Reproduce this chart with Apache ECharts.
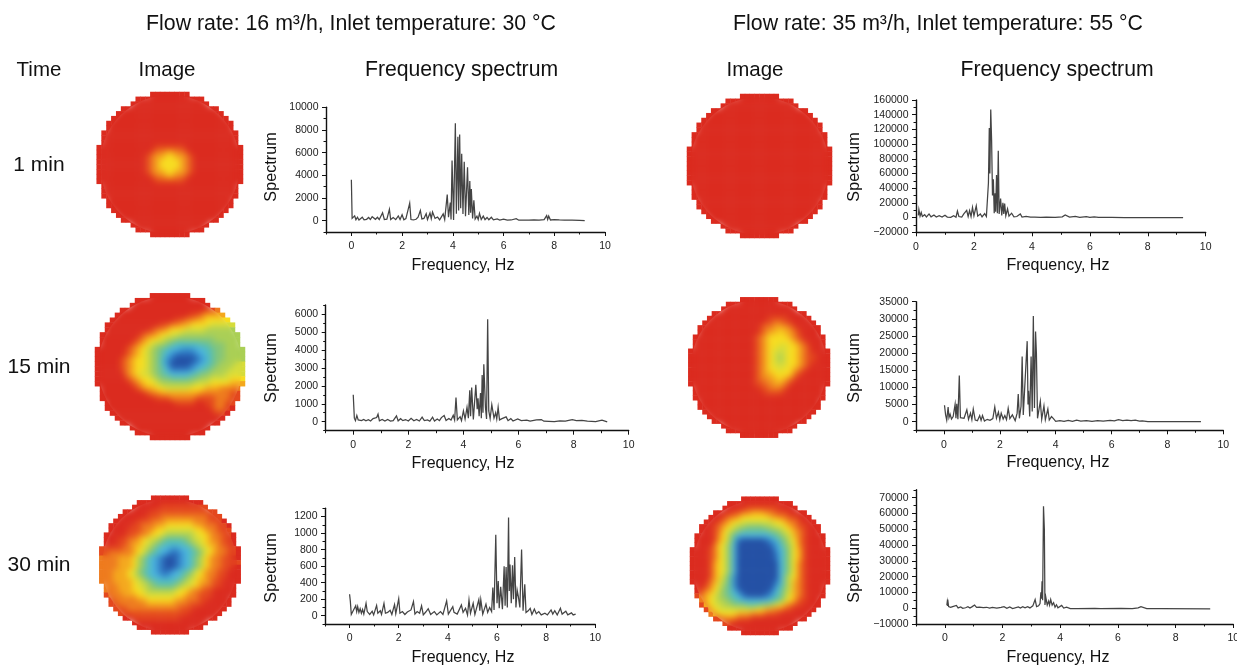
<!DOCTYPE html>
<html><head><meta charset="utf-8">
<style>html,body{margin:0;padding:0;background:#fff;overflow:hidden}#c{width:1237px;height:666px;position:absolute;left:0;top:0}
.soft{position:absolute;border-radius:50%;-webkit-backdrop-filter:blur(3px);backdrop-filter:blur(3px);pointer-events:none}</style>
<script src="https://cdn.jsdelivr.net/npm/echarts@6/dist/echarts.min.js"></script>
</head><body><div id="c"></div>
<script>
// Level per cell of each tomographic image (0 = red ... d = deep blue), circle rows only
const image1=["00000000","00000000000000","0000000000000000","00000000000000000000","0000000000000000000000","000000000000000000000000","00000000000000000000000000","00000000000000000000000000","0000000000000000000000000000","0000000000000000000000000000","0000000000000000000000000000",
"000000000000111111000000000000","000000000001223322100000000000","000000000012334433210000000000","000000000012344443210000000000","000000000012344443210000000000","000000000012334433210000000000","000000000001223322100000000000","000000000000111111000000000000",
"0000000000000000000000000000","0000000000000000000000000000","0000000000000000000000000000","00000000000000000000000000","00000000000000000000000000","000000000000000000000000","0000000000000000000000","00000000000000000000","0000000000000000","00000000000000","00000000"];
const image2=["00000000","00000000000000","0000000000000000","00000000000000000112","0000000000000001123333","000000000000011223344444","00000000000112233444455555","00000000012234445555666666","0000000012234455666666666666","0000000123445667777777766666","0000001234566789999988777666",
"000000123456789aabbbaa98776666","00000012345678abccccba98776666","00000123445679bcddddcba8776666","00000123445679bddddcba98766655","00000123445678accccba987666555","000000234556789aaaa98776665555","000000123445677888877665555444","000000012344566666665554444333",
"0000000123344555554443332222","0000000001223333333322222211","0000000000011122222111122211","00000000000000111100112211","00000000000000000000012210","000000000000000000000110","0000000000000000000000","00000000000000000000","0000000000000000","00000000000000","00000000"];
const image3=["00000000","00000000000000","0000001111111111","00000011111111111111","0000001112222222222111","000001112223333332221110","00000112223344444433222110","00001112234455555544322111","0000011223445666666544322110","0001122345567888876554322110","0001123345678999987654332110",
"1111122345679aabbaa97654322110","1122222345789abccba98754322110","22223334679abcddcba97643221100","22223334679abcddcba97643221111","22223334679abcddcba97643221100","22233345789abccba9875432211000","22233345679aabbaa9765432211000","222333345678999987654332110000",
"2223334556788887655432211000","2223334456666665443221100000","1222333445555554432211100000","12222233444444332221100000","11222222333333222111000000","111222222222221110000000","1111111111111110000000","00111111111100000000","0000000000000000","00000000000000","00000000"];
const image4=["00000000","00000000000000","0000000000000000","00000000000000000000","0000000000000000000000","000000000000000000000000","00000000000000000000000000","00000000000000000000000000","0000000000000000000000000000","0000000000000000000000000000","0000000000000000000000000000",
"000000000000000000000000000000","000000000000000000000000000000","000000000000000000000000000000","000000000000000000000000000000","000000000000000000000000000000","000000000000000000000000000000","000000000000000000000000000000","000000000000000000000000000000",
"0000000000000000000000000000","0000000000000000000000000000","0000000000000000000000000000","00000000000000000000000000","00000000000000000000000000","000000000000000000000000","0000000000000000000000","00000000000000000000","0000000000000000","00000000000000","00000000"];
const image5=["00000000","00000000000000","0000000000000000","00000000000000000000","0000000000000111100000","000000000000011221100000","00000000000001223332100000","00000000000001233433210000","0000000000000123444432100000","0000000000000123444443210000","0000000000000123445544321000",
"000000000000001234555443210000","000000000000001234565443211000","000000000000001234565443211000","000000000000001234555443210000","000000000000001234454432100000","000000000000001233444421000000","000000000000001223343210000000","000000000000001122332100000000",
"0000000000000011222100000000","0000000000000001111000000000","0000000000000000000000000000","00000000000000000000000000","00000000000000000000000000","000000000000000000000000","0000000000000000000000","00000000000000000000","0000000000000000","00000000000000","00000000"];
const image6=["00000000","00000000000000","0000011111110000","00001122333221110000","0001223444444332211000","000123445555555443221000","00012345667777665543211000","00012456788888877654321000","000013468aaaaaaa987653210000","000013469cdddddcba8754210000","00002457adddddddcb9764210000",
"000012457addddddddba8643100000","000012457addddddddca8643100000","000012457addddddddca8643100000","000013457addddddddda8642100000","000013457addddddddda8642100000","000013457addddddddda8642100000","000013468bddddddddda7542100000","000023568bddddddddca7532100000",
"00124578bddddddddb9753210000","01234678acddddddca8653210000","123456789acddddcb98643210000","234566789aaaaaa98754311000","13455667778887765432110000","134555555554433221100000","2344443332221110000000","11222111000000000000","1100000000000000","00000000000000","00000000"];
const images=[image1,image2,image3,image4,image5,image6];

// Spectrum curves: [frequency in Hz, amplitude]
const spectrum1=[[0,3600],[0.03,200],[0.08,150],[0.13,420],[0.18,80],[0.24,300],[0.3,60],[0.37,150],[0.43,300],[0.5,70],[0.6,120],[0.68,280],[0.75,100],[0.82,350],[0.88,380],[0.95,120],[1.03,300],[1.1,90],[1.17,250],[1.23,700],[1.3,100],[1.4,130],[1.5,1000],[1.55,100],[1.65,280],[1.75,90],[1.85,420],[1.92,100],[2.0,520],[2.07,80],[2.15,180],[2.22,70],[2.3,1550],[2.35,100],[2.45,60],[2.55,120],[2.63,300],[2.72,900],[2.78,150],[2.86,200],[2.95,620],[3.0,100],[3.1,680],[3.15,180],[3.2,760],[3.3,200],[3.4,320],[3.48,80],[3.55,250],[3.62,600],[3.68,100],[3.78,2300],[3.83,300],[3.9,1600],[3.93,100],[3.97,5300],[4.03,60],[4.1,8600],[4.14,600],[4.2,7400],[4.23,900],[4.27,7600],[4.31,1100],[4.35,5900],[4.4,600],[4.45,5200],[4.5,400],[4.58,4700],[4.63,500],[4.67,3500],[4.7,700],[4.73,2800],[4.78,200],[4.83,1800],[4.88,150],[4.95,400],[5.0,100],[5.05,650],[5.12,100],[5.2,400],[5.27,90],[5.35,280],[5.42,80],[5.52,300],[5.6,70],[5.75,150],[5.85,50],[6.0,140],[6.15,40],[6.3,60],[6.5,180],[6.6,40],[6.8,50],[7.0,40],[7.2,70],[7.4,50],[7.6,90],[7.7,450],[7.74,100],[7.78,400],[7.85,60],[8.0,100],[8.2,60],[8.4,40],[8.7,50],[9.0,30],[9.2,10]];
const spectrum2=[[0,1500],[0.04,200],[0.08,60],[0.13,350],[0.18,100],[0.25,200],[0.3,60],[0.38,130],[0.46,50],[0.55,110],[0.63,40],[0.72,170],[0.78,60],[0.85,230],[0.9,420],[0.95,50],[1.05,130],[1.15,40],[1.25,120],[1.35,40],[1.45,60],[1.57,330],[1.63,50],[1.72,170],[1.8,60],[1.9,120],[2.0,40],[2.1,190],[2.2,50],[2.3,130],[2.4,40],[2.5,260],[2.58,60],[2.7,100],[2.78,30],[2.88,250],[2.95,40],[3.05,150],[3.13,60],[3.2,230],[3.3,350],[3.37,70],[3.47,180],[3.55,90],[3.63,360],[3.68,100],[3.73,1350],[3.78,100],[3.88,280],[3.93,60],[4.0,600],[4.06,150],[4.13,800],[4.18,200],[4.23,1750],[4.26,300],[4.3,1900],[4.36,120],[4.45,2050],[4.5,700],[4.53,1300],[4.57,300],[4.62,1600],[4.65,200],[4.68,2600],[4.71,500],[4.74,3200],[4.8,800],[4.84,150],[4.88,5700],[4.92,600],[4.97,180],[5.03,950],[5.07,1000],[5.11,200],[5.17,500],[5.21,150],[5.26,800],[5.31,100],[5.4,170],[5.47,60],[5.55,270],[5.62,60],[5.72,170],[5.8,40],[5.97,150],[6.1,60],[6.3,90],[6.42,30],[6.65,100],[6.72,40],[6.83,120],[6.92,30],[7.1,20],[7.3,10],[7.5,50],[7.7,30],[7.95,110],[8.1,60],[8.3,70],[8.5,30],[8.8,10],[9.03,90],[9.1,10],[9.22,-10]];
const spectrum3=[[0,260],[0.03,180],[0.07,15],[0.15,30],[0.25,120],[0.29,50],[0.33,110],[0.38,40],[0.43,85],[0.48,30],[0.53,75],[0.58,20],[0.67,150],[0.72,50],[0.82,15],[0.92,55],[0.98,10],[1.1,125],[1.15,30],[1.25,60],[1.3,15],[1.4,150],[1.46,30],[1.55,40],[1.65,65],[1.72,15],[1.83,135],[1.88,25],[2.0,205],[2.05,30],[2.15,50],[2.25,15],[2.35,45],[2.5,70],[2.6,170],[2.66,20],[2.75,50],[2.85,30],[2.93,120],[3.0,10],[3.1,45],[3.2,85],[3.3,15],[3.45,50],[3.55,10],[3.7,50],[3.8,15],[3.88,30],[3.95,180],[4.02,20],[4.08,50],[4.2,110],[4.25,40],[4.38,20],[4.55,130],[4.62,40],[4.72,90],[4.8,10],[4.86,190],[4.92,30],[5.03,150],[5.1,15],[5.26,195],[5.3,60],[5.34,195],[5.42,20],[5.55,140],[5.62,40],[5.7,100],[5.78,50],[5.83,340],[5.88,70],[5.95,980],[6.0,150],[6.05,420],[6.09,90],[6.15,350],[6.22,80],[6.29,600],[6.33,120],[6.37,590],[6.42,100],[6.47,1190],[6.5,300],[6.53,620],[6.58,150],[6.63,610],[6.67,200],[6.72,710],[6.77,100],[6.82,310],[6.87,230],[6.93,100],[7.0,800],[7.06,60],[7.13,380],[7.18,40],[7.27,60],[7.35,90],[7.42,15],[7.52,80],[7.6,25],[7.7,50],[7.8,10],[7.95,30],[8.05,10],[8.2,70],[8.27,20],[8.35,60],[8.45,10],[8.58,90],[8.65,20],[8.8,55],[8.88,10],[9.03,35],[9.1,10],[9.2,20]];
const spectrum4=[[0.08,3000],[0.1,11000],[0.14,2000],[0.18,7000],[0.22,1500],[0.3,4000],[0.36,800],[0.45,5000],[0.52,1000],[0.62,3500],[0.7,800],[0.8,2500],[0.9,700],[1.0,3200],[1.08,700],[1.2,400],[1.3,2500],[1.38,500],[1.43,9000],[1.48,1500],[1.58,800],[1.65,5000],[1.75,9800],[1.8,1500],[1.85,9500],[1.9,1500],[1.95,14000],[2.0,2500],[2.08,16000],[2.13,2000],[2.22,5000],[2.28,1000],[2.37,5500],[2.43,1500],[2.48,3000],[2.5,47000],[2.53,122000],[2.55,60000],[2.58,147000],[2.61,105000],[2.64,30000],[2.67,52000],[2.7,6000],[2.73,33000],[2.75,8000],[2.78,58000],[2.81,6000],[2.84,91000],[2.87,5000],[2.92,26000],[2.96,3000],[3.0,20000],[3.03,5000],[3.06,19000],[3.1,2500],[3.16,12000],[3.21,2000],[3.3,6000],[3.38,1000],[3.48,1500],[3.6,5000],[3.66,800],[3.8,1500],[3.95,500],[4.1,500],[4.3,300],[4.5,500],[4.8,300],[5.05,1000],[5.15,3500],[5.3,600],[5.5,1500],[5.65,300],[5.88,1200],[6.0,200],[6.15,900],[6.3,200],[6.75,400],[7.2,100],[8,100],[9.22,0]];
const spectrum5=[[0.02,4800],[0.06,2000],[0.1,500],[0.15,4300],[0.18,1200],[0.22,2200],[0.27,800],[0.33,1500],[0.4,5100],[0.43,1000],[0.46,5200],[0.5,700],[0.55,13500],[0.59,1200],[0.65,800],[0.72,1000],[0.82,3500],[0.88,700],[0.95,2500],[1.0,600],[1.05,3700],[1.12,500],[1.2,300],[1.28,1800],[1.33,400],[1.38,1800],[1.45,200],[1.55,700],[1.65,400],[1.75,900],[1.82,4300],[1.88,1000],[1.95,2800],[2.0,500],[2.05,2500],[2.12,800],[2.18,1800],[2.24,600],[2.3,3900],[2.36,900],[2.45,2000],[2.55,300],[2.62,2500],[2.66,8100],[2.7,1000],[2.76,4500],[2.8,19000],[2.84,2000],[2.9,2000],[2.98,23500],[3.01,5000],[3.03,9000],[3.07,1500],[3.12,19000],[3.16,3000],[3.2,30800],[3.24,4000],[3.28,26300],[3.31,20000],[3.35,1000],[3.45,6000],[3.5,700],[3.58,4600],[3.63,600],[3.72,3700],[3.77,500],[3.85,1500],[3.92,900],[4.0,100],[4.15,350],[4.3,100],[4.45,400],[4.6,100],[4.75,450],[4.9,150],[5.1,350],[5.3,100],[5.5,350],[5.7,150],[5.95,400],[6.1,250],[6.25,600],[6.4,350],[6.55,500],[6.7,350],[6.85,450],[7.0,150],[7.1,250],[7.3,50],[7.6,30],[8.2,20],[9.2,0]];
const spectrum6=[[0.07,2000],[0.08,3500],[0.09,1500],[0.1,5500],[0.13,1000],[0.2,500],[0.27,1000],[0.33,200],[0.4,1800],[0.46,200],[0.55,800],[0.62,-100],[0.72,300],[0.8,900],[0.87,100],[0.95,1000],[1.03,2000],[1.1,500],[1.2,700],[1.25,1400],[1.33,300],[1.45,600],[1.55,0],[1.65,500],[1.8,100],[1.95,600],[2.05,1000],[2.15,-100],[2.25,800],[2.35,-200],[2.55,800],[2.62,100],[2.7,1000],[2.78,200],[2.87,1000],[2.95,200],[3.05,1500],[3.13,5500],[3.18,1000],[3.25,1500],[3.3,3000],[3.33,10000],[3.35,6000],[3.37,17000],[3.39,5000],[3.42,64500],[3.45,50000],[3.47,2000],[3.5,7000],[3.55,2000],[3.6,4500],[3.63,2000],[3.67,5500],[3.72,2000],[3.77,3500],[3.82,600],[3.87,2200],[3.92,300],[4.05,1800],[4.12,100],[4.22,600],[4.35,-300],[4.6,-300],[5.2,-100],[5.4,-300],[6.1,-100],[6.5,-300],[6.7,200],[6.8,1000],[6.85,300],[7,-200],[7.5,-300],[9.2,-400]];
const spectra=[spectrum1,spectrum2,spectrum3,spectrum4,spectrum5,spectrum6];

// Tick labels
const freqTicks=[0,2,4,6,8,10];
const yTicks1=[0,2000,4000,6000,8000,10000];
const yTicks2=[0,1000,2000,3000,4000,5000,6000];
const yTicks3=[0,200,400,600,800,1000,1200];
const yTicks4=[-20000,0,20000,40000,60000,80000,100000,120000,140000,160000];
const yTicks5=[0,5000,10000,15000,20000,25000,30000,35000];
const yTicks6=[-10000,0,10000,20000,30000,40000,50000,60000,70000];
const yTicks=[yTicks1,yTicks2,yTicks3,yTicks4,yTicks5,yTicks6];

// Layout of the panels
const plots=[
 {left:326,top:107.3,width:279,height:124.7,xMin:-1,yMin:-1000,yMax:10000,yMinor:1000},
 {left:325.7,top:305,width:303,height:125.7,xMin:-1,yMin:-500,yMax:6500,yMinor:500},
 {left:325,top:508.3,width:270.3,height:115.7,xMin:-1,yMin:-100,yMax:1300,yMinor:100},
 {left:916,top:100,width:289.7,height:132.3,xMin:0,yMin:-20000,yMax:160000,yMinor:10000},
 {left:916,top:301.7,width:307.3,height:128.6,xMin:-1,yMin:-2500,yMax:35000,yMinor:2500},
 {left:916,top:489.8,width:317.3,height:134.2,xMin:-1,yMin:-10000,yMax:75000,yMinor:5000}
];
const imageBoxes=[
 {left:96.7,top:92,width:146.3,height:145},
 {left:95,top:293.3,width:150,height:146.7},
 {left:99.3,top:495.7,width:141.4,height:138.6},
 {left:687,top:94,width:145,height:144},
 {left:688.3,top:297.3,width:141.7,height:140.4},
 {left:690,top:496.7,width:140,height:138.3}
];
const palette=['#db2b1f','#e4481e','#ee7b1e','#f4a81d','#f7dc20','#d6dc3a','#aacf55','#86c678','#62c0a0','#4fbdc4','#4cb5de','#3a94d2','#2a6dbb','#2350a5'];
const labels=[
 {t:'Flow rate: 16 m³/h, Inlet temperature: 30 °C',x:351,y:24,s:21.3},
 {t:'Flow rate: 35 m³/h, Inlet temperature: 55 °C',x:938,y:24,s:21.3},
 {t:'Time',x:39,y:70,s:20.5},{t:'Image',x:167,y:70,s:20.5},{t:'Frequency spectrum',x:461.5,y:70,s:21.2},
 {t:'Image',x:755,y:70,s:20.5},{t:'Frequency spectrum',x:1057,y:70,s:21.2},
 {t:'1 min',x:39,y:165,s:21},{t:'15 min',x:39,y:367,s:21},{t:'30 min',x:39,y:565,s:21},
 {t:'Frequency, Hz',x:463,y:266,s:16},{t:'Frequency, Hz',x:463,y:464,s:16},{t:'Frequency, Hz',x:463,y:658,s:16},
 {t:'Frequency, Hz',x:1058,y:266,s:16},{t:'Frequency, Hz',x:1058,y:463,s:16},{t:'Frequency, Hz',x:1058,y:658,s:16},
 {t:'Spectrum',x:272,y:167,s:16.2,r:1},{t:'Spectrum',x:272,y:368,s:16.2,r:1},{t:'Spectrum',x:272,y:568,s:16.2,r:1},
 {t:'Spectrum',x:855,y:167,s:16.2,r:1},{t:'Spectrum',x:855,y:368,s:16.2,r:1},{t:'Spectrum',x:855,y:568,s:16.2,r:1}
];

const FONT='"Liberation Sans",Arial,sans-serif';
const INK='#222';
const grid=[],xAxis=[],yAxis=[],series=[];
const lab=(v)=>String(v).replace('-','\u2212');

plots.forEach((p,i)=>{
  const g=grid.length;
  grid.push({left:p.left,top:p.top,width:p.width,height:p.height,outerBoundsMode:'none'});
  const xi=xAxis.length,yi=yAxis.length;
  xAxis.push({type:'value',gridIndex:g,position:'bottom',min:p.xMin,max:10,splitLine:{show:false},
    axisLine:{show:true,onZero:false,lineStyle:{color:'#111',width:1.4}},
    axisTick:{show:true,length:4,customValues:freqTicks,lineStyle:{color:'#111',width:1}},
    axisLabel:{color:INK,fontSize:10.5,fontFamily:FONT,margin:9,customValues:freqTicks,formatter:lab,hideOverlap:false}});
  xAxis.push({type:'value',gridIndex:g,position:'bottom',min:p.xMin,max:10,interval:1,splitLine:{show:false},
    axisLine:{show:false,onZero:false},axisTick:{show:true,length:2.5,lineStyle:{color:'#111',width:1}},axisLabel:{show:false}});
  yAxis.push({type:'value',gridIndex:g,position:'left',min:p.yMin,max:p.yMax,splitLine:{show:false},
    axisLine:{show:true,onZero:false,lineStyle:{color:'#111',width:1.4}},
    axisTick:{show:true,length:4,customValues:yTicks[i],lineStyle:{color:'#111',width:1}},
    axisLabel:{color:INK,fontSize:10.5,fontFamily:FONT,margin:7.5,customValues:yTicks[i],formatter:lab,hideOverlap:false}});
  yAxis.push({type:'value',gridIndex:g,position:'left',min:p.yMin,max:p.yMax,interval:p.yMinor,splitLine:{show:false},
    axisLine:{show:false,onZero:false},axisTick:{show:true,length:2.5,lineStyle:{color:'#111',width:1}},axisLabel:{show:false}});
  series.push({type:'line',xAxisIndex:xi,yAxisIndex:yi,data:spectra[i],showSymbol:false,symbol:'none',clip:false,silent:true,
    lineStyle:{color:'#444',width:1.25,join:'miter'}});
});

const heatIdx=[];
images.forEach((rows,i)=>{
  const g=grid.length;
  grid.push(Object.assign({outerBoundsMode:'none'},imageBoxes[i]));
  const n=rows.length, cats=rows.map((_,k)=>k);
  const xi=xAxis.length,yi=yAxis.length;
  xAxis.push({type:'category',gridIndex:g,data:cats,show:false});
  yAxis.push({type:'category',gridIndex:g,data:cats,show:false,inverse:true});
  const cells=[];
  rows.forEach((row,r)=>{
    const off=Math.floor((n-row.length)/2);
    for(let c=0;c<row.length;c++) cells.push([off+c,r,parseInt(row[c],16)]);
  });
  heatIdx.push(series.length);
  series.push({type:'heatmap',xAxisIndex:xi,yAxisIndex:yi,data:cells,silent:true,progressive:0,
    itemStyle:{borderWidth:0},emphasis:{disabled:true}});
  // soft focus over the interior of the disc, as in the original interpolated image
  const d=document.createElement('div');
  const b=imageBoxes[i], inset=3;
  d.className='soft';
  d.style.cssText='left:'+(b.left+inset)+'px;top:'+(b.top+inset)+'px;width:'+(b.width-2*inset)+'px;height:'+(b.height-2*inset)+'px';
  document.body.appendChild(d);
});

const chart=echarts.init(document.getElementById('c'),null,{width:1237,height:666});
chart.setOption({
  backgroundColor:'#ffffff',animation:false,grid,xAxis,yAxis,series,
  visualMap:{show:false,type:'piecewise',seriesIndex:heatIdx,dimension:2,
    pieces:palette.map((color,k)=>({value:k,color}))},
  graphic:labels.map(l=>({type:'text',x:l.x,y:l.y,rotation:l.r?Math.PI/2:0,silent:true,
    style:{text:l.t,fill:'#111',font:l.s+'px '+FONT,align:'center',verticalAlign:'middle'}}))
});
</script></body></html>
